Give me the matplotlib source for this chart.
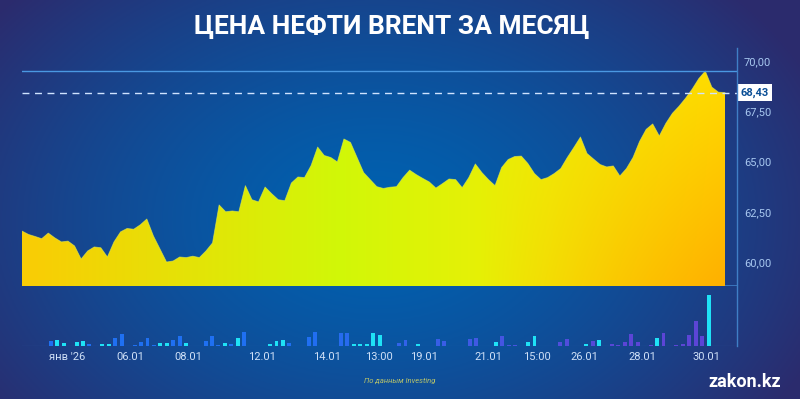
import numpy as np
import matplotlib
matplotlib.use('Agg')
import matplotlib.pyplot as plt
from matplotlib.lines import Line2D
from matplotlib.patches import Polygon

# ---------------- data ----------------
prices = [61.54, 61.37, 61.27, 61.16, 61.44, 61.20, 61.00, 61.04, 60.80, 60.15,
          60.55, 60.75, 60.71, 60.25, 61.00, 61.50, 61.67, 61.63, 61.85, 62.14,
          61.30, 60.65, 60.00, 60.05, 60.25, 60.22, 60.29, 60.22, 60.55, 60.95,
          62.84, 62.50, 62.54, 62.50, 63.80, 63.10, 62.99, 63.73, 63.40, 63.10,
          63.05, 63.93, 64.23, 64.20, 64.80, 65.72, 65.30, 65.20, 64.98, 66.12,
          65.95, 65.20, 64.45, 64.10, 63.75, 63.66, 63.72, 63.75, 64.20, 64.57,
          64.35, 64.16, 63.98, 63.68, 63.90, 64.13, 64.10, 63.70, 64.20, 64.88,
          64.45, 64.10, 63.80, 64.70, 65.10, 65.25, 65.27, 64.90, 64.40, 64.10,
          64.20, 64.40, 64.65, 65.20, 65.70, 66.22, 65.40, 65.12, 64.85, 64.73,
          64.78, 64.28, 64.65, 65.20, 66.00, 66.60, 66.87, 66.27, 66.90, 67.40,
          67.75, 68.15, 68.60, 69.12, 69.50, 68.70, 68.45, 68.43]

volumes = [0.5, 4.7, 5.7, 2.7, 0.5, 3.7, 5.3, 1.7, 0, 1.7,
           1.7, 7.7, 11.7, 0, 0.7, 3.7, 7.7, 0.7, 3.3, 2.7,
           6.3, 9.7, 2.7, 0.5, 0.5, 5.3, 10.0, 1.0, 2.7, 1.7,
           7.7, 13.7, 0, 0, 0, 2.3, 5.0, 6.0, 3.0, 0,
           0.5, 9.3, 14.3, 0, 0.5, 0.5, 12.7, 12.7, 1.7, 1.7,
           1.7, 13.3, 10.7, 0, 0, 3.3, 5.7, 0.5, 2.3, 0.5,
           0.5, 7.0, 5.0, 0, 0.5, 0.5, 7.3, 8.0, 0.5, 0,
           4.3, 10.3, 1.0, 1.0, 0, 4.0, 9.7, 0.5, 0, 0,
           4.3, 6.7, 0, 0.5, 1.7, 4.7, 5.7, 0.5, 1.7, 1.0,
           3.7, 12.3, 3.7, 0, 1.0, 8.3, 13.3, 0, 1.0, 1.7,
           10.7, 25.3, 9.7, 51.0]

vol_dir = list("dduuduuddu" "uddddddduu" "ddudddddud" "udddduuudd"
               "dddddddduu" "uuudddddud" "dddddddddd" "udddduuudd"
               "ddddududdd" "dddddudddd" "dddu")

tick_positions = [3.5, 13.4, 22.4, 33.7, 43.8, 51.9, 58.9, 68.8, 76.4, 83.7, 92.8, 102.7]
tick_labels = ["янв '26", "06.01", "08.01", "12.01", "14.01", "13:00",
               "19.01", "21.01", "15:00", "26.01", "28.01", "30.01"]

y_ticks = [60.0, 62.5, 65.0, 67.5, 70.0]
last_price = 68.43

title = "ЦЕНА НЕФТИ BRENT ЗА МЕСЯЦ"
source = "По данным Investing"
brand = "zakon.kz"

# ---------------- figure ----------------
W, H = 800, 399
fig = plt.figure(figsize=(W / 100, H / 100), dpi=100)
plt.rcParams['font.family'] = ['Roboto', 'DejaVu Sans']

# background gradient
bg = fig.add_axes([0, 0, 1, 1])
bg.axis('off')
yy, xx = np.mgrid[0:1:200j, 0:1:400j]
d = np.sqrt(((xx - 0.47) / 0.60) ** 2 + ((yy - 0.55) / 0.85) ** 2)
t = np.clip(d, 0, 1) ** 1.5
center = np.array([0.0, 0.38, 0.69])
edge = np.array([0.17, 0.17, 0.43])
img = center * (1 - t)[..., None] + edge * t[..., None]
bg.imshow(img, extent=[0, 1, 0, 1], aspect='auto', origin='upper', zorder=0)
bg.set_xlim(0, 1)
bg.set_ylim(0, 1)

# price axes
x0p, x1p, ytop, ybotp = 22, 737, 50, 286
ax = fig.add_axes([x0p / W, (H - ybotp) / H, (x1p - x0p) / W, (ybotp - ytop) / H])
ax.patch.set_alpha(0)
n = len(prices)
x = np.arange(n)
ybot = 58.806
ax.set_xlim(0, (x1p - x0p) / ((725 - 22) / (n - 1)))
ax.set_ylim(ybot, 70.547)
for s in ax.spines.values():
    s.set_visible(False)

ax.axhline(ybot, color='#3f7fc6', lw=1.2, zorder=1)

verts = np.column_stack([np.r_[x, x[::-1]], np.r_[prices, [ybot] * n]])
patch = Polygon(verts, closed=True, transform=ax.transData, facecolor='none',
                edgecolor='none')
ax.add_patch(patch)

gx = np.linspace(0, 1, 400)
gy = np.linspace(0, 1, 200)
GX, GY = np.meshgrid(gx, gy)  # GY: 0 top -> 1 bottom
stops_x = [0.0, 0.45, 0.75, 1.0]
stops_c = np.array([[0.98, 0.80, 0.02], [0.82, 0.97, 0.03],
                    [0.94, 0.93, 0.02], [1.0, 0.86, 0.0]])
grad = np.zeros(GX.shape + (3,))
for c in range(3):
    grad[..., c] = np.interp(GX, stops_x, stops_c[:, c])
o = np.clip((GX - 0.65) / 0.35, 0, 1) * np.clip(GY, 0, 1)
orange = np.array([1.0, 0.66, 0.0])
grad = grad * (1 - 0.85 * o[..., None]) + orange * (0.85 * o[..., None])
im = ax.imshow(grad, extent=[0, x[-1], ybot, max(prices)], aspect='auto',
               origin='upper', zorder=2)
im.set_clip_path(patch)
ax.plot(x, prices, color='#e8f050', lw=0.6, alpha=0.6, zorder=2.5)

ax.axhline(max(prices), color='#4a98e2', lw=1.0, zorder=3)
ax.axhline(last_price, color='#cfe3ff', lw=1.0, ls=(0, (5, 4)), zorder=3)

ax.set_xticks([])
ax.yaxis.tick_right()
ax.set_yticks(y_ticks)
ax.set_yticklabels([f"{v:.2f}".replace('.', ',') for v in y_ticks])
ax.tick_params(axis='y', length=0, pad=5, labelsize=8, labelcolor='#a8c8f0')

ax.annotate(f"{last_price:.2f}".replace('.', ','), xy=(1, last_price),
            xycoords=('axes fraction', 'data'), xytext=(2.6, 0),
            textcoords='offset points', ha='left', va='center',
            fontsize=8, fontweight='bold', color='#0b4f96', zorder=5,
            bbox=dict(boxstyle='square,pad=0.28', fc='white', ec='none'))

# volume axes
vb = 346
axv = fig.add_axes([x0p / W, (H - vb) / H, (x1p - x0p) / W, 56 / H])
axv.patch.set_alpha(0)
kk = np.arange(len(volumes))
axv.set_xlim((22 - 44.3) / 6.45, (737 - 44.3) / 6.45)
axv.set_ylim(0, 56)
for s in axv.spines.values():
    s.set_visible(False)
blue = np.array([0.12, 0.44, 0.95])
purple = np.array([0.36, 0.27, 0.84])
cols = []
for k, dch in zip(kk, vol_dir):
    if dch == 'u':
        cols.append('#1fe2f6')
    else:
        f = np.clip((k - 40) / 50, 0, 1)
        cols.append(tuple(blue * (1 - f) + purple * f))
axv.bar(kk, volumes, width=0.62, color=cols, zorder=3)
axv.axhline(0, color='#3a7cc4', lw=0.8, alpha=0.7, zorder=2)
axv.set_yticks([])
axv.set_xticks(tick_positions)
axv.set_xticklabels(tick_labels)
axv.tick_params(axis='x', length=0, pad=4, labelsize=8, labelcolor='#cfe0f7')

# right axis line
fig.add_artist(Line2D([737 / W, 737 / W], [1 - 48 / H, 1 - 346 / H],
                      color='#3f7fc6', lw=1.0))

# texts
fig.text(0.49, 1 - 27 / H, title, ha='center', va='center', color='white',
         fontsize=19, fontweight='bold')
fig.text(400 / W, 1 - 381 / H, source, ha='center', va='center',
         color='#b9c46a', fontsize=5.5, style='italic')
fig.text(781 / W, 1 - 382 / H, brand, ha='right', va='center',
         color='white', fontsize=13, fontweight='bold')

fig.savefig('out.png', dpi=100)
